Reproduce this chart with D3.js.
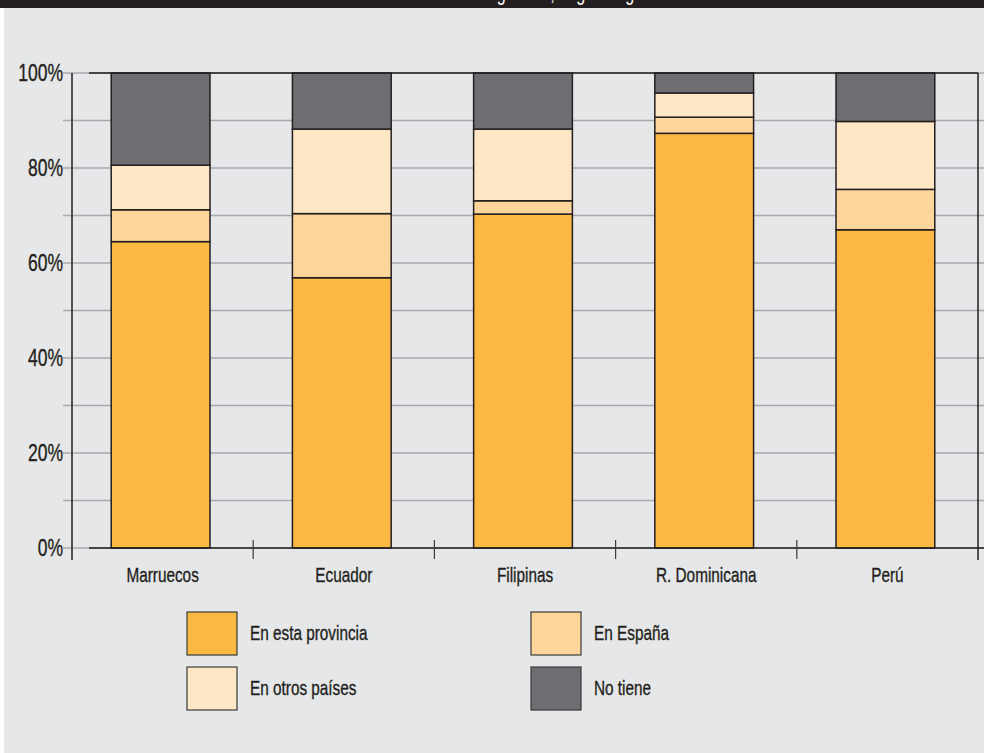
<!DOCTYPE html>
<html>
<head>
<meta charset="utf-8">
<script src="https://cdn.jsdelivr.net/npm/d3@7"></script>
<style>
  html, body { margin: 0; padding: 0; background: #ffffff; }
  svg { display: block; }
</style>
</head>
<body>
<svg id="chart" width="984" height="753"></svg>
<script>
// ---- Data ----
const categories = ["Marruecos", "Ecuador", "Filipinas", "R. Dominicana", "Perú"];
const seriesNames = ["En esta provincia", "En España", "En otros países", "No tiene"];
const enEstaProvincia = [64.5, 56.9, 70.3, 87.3, 67.0];
const enEspana        = [6.7, 13.5, 2.8, 3.4, 8.5];
const enOtrosPaises   = [9.4, 17.8, 15.1, 5.1, 14.3];
const noTiene         = [19.4, 11.8, 11.8, 4.2, 10.2];
const yTickValues = [0, 10, 20, 30, 40, 50, 60, 70, 80, 90, 100];
const yTickLabels = ["0%", "", "20%", "", "40%", "", "60%", "", "80%", "", "100%"];
const titleText = "Familiares de los inmigrantes, según origen";

(function () {
const colors = ["#fbb843", "#fed69b", "#fee7c4", "#6d6e71"];
const font = "'Liberation Sans', Arial, sans-serif";
const SX = 0.73; // condensed look

const svg = d3.select("#chart");
const W = 984, H = 753;

// helper: horizontally condensed text
function ctext(sel, x, y, txt, size, anchor, fill) {
  const f = fill || "#231f20";
  return sel.append("text")
    .attr("transform", `translate(${x},${y}) scale(${SX},1)`)
    .attr("dy", "0.35em")
    .attr("text-anchor", anchor)
    .attr("font-family", font).attr("font-size", size)
    .attr("fill", f).attr("stroke", f).attr("stroke-width", 0.35)
    .text(txt);
}

// background
svg.append("rect").attr("x", 4).attr("y", 0).attr("width", W - 4).attr("height", H).attr("fill", "#e6e7e8");
// top black band with clipped title
svg.append("rect").attr("x", 0).attr("y", 0).attr("width", W).attr("height", 8).attr("fill", "#231f20");
svg.append("text")
  .attr("transform", `translate(652,0) scale(${SX},1)`)
  .attr("text-anchor", "end")
  .attr("font-family", font).attr("font-size", 22).attr("fill", "#ffffff")
  .text(titleText);

const mLeft = 72, mRight = 978, mTop = 73, mBottom = 548;

const x = d3.scaleBand().domain(categories).range([mLeft, mRight]).paddingInner(0.455).paddingOuter(0.2275);
const y = d3.scaleLinear().domain([0, 100]).range([mBottom, mTop]);

// grid lines
svg.append("g").selectAll("line").data(yTickValues).join("line")
  .attr("x1", 63).attr("x2", W)
  .attr("y1", d => y(d)).attr("y2", d => y(d))
  .attr("stroke", "#a7a9ac").attr("stroke-width", 1.5);

// stacked data
const rows = categories.map((c, i) => ({
  cat: c,
  s0: enEstaProvincia[i], s1: enEspana[i], s2: enOtrosPaises[i], s3: noTiene[i]
}));
const stacked = d3.stack().keys(["s0", "s1", "s2", "s3"])(rows);

const gBars = svg.append("g");
stacked.forEach((layer, li) => {
  gBars.append("g").selectAll("rect").data(layer).join("rect")
    .attr("x", d => x(d.data.cat) - 2)
    .attr("y", d => y(d[1]))
    .attr("width", x.bandwidth())
    .attr("height", d => y(d[0]) - y(d[1]))
    .attr("fill", colors[li])
    .attr("stroke", "#231f20")
    .attr("stroke-width", 1.5);
});

// axis frame lines
const axisColor = "#231f20";
svg.append("line").attr("x1", 89).attr("x2", mRight).attr("y1", y(100)).attr("y2", y(100))
  .attr("stroke", axisColor).attr("stroke-width", 1.5);
svg.append("line").attr("x1", 89).attr("x2", W).attr("y1", y(0)).attr("y2", y(0))
  .attr("stroke", axisColor).attr("stroke-width", 1.5);
svg.append("line").attr("x1", mLeft).attr("x2", mLeft).attr("y1", y(100)).attr("y2", 560)
  .attr("stroke", axisColor).attr("stroke-width", 1.5);
svg.append("line").attr("x1", mRight).attr("x2", mRight).attr("y1", y(100)).attr("y2", 560)
  .attr("stroke", axisColor).attr("stroke-width", 1.5);

// category boundary ticks
const bnds = d3.range(categories.length + 1).map(i => mLeft + i * x.step());
svg.append("g").selectAll("line").data(bnds.slice(1, -1)).join("line")
  .attr("x1", d => d).attr("x2", d => d).attr("y1", 540).attr("y2", 559)
  .attr("stroke", "#3a3a3a").attr("stroke-width", 1.2);

// y axis labels
const gy = svg.append("g");
yTickValues.forEach((v, i) => {
  if (yTickLabels[i]) ctext(gy, 63, y(v), yTickLabels[i], 24, "end");
});

// x axis labels
const gx = svg.append("g");
categories.forEach(c => {
  ctext(gx, x(c) + x.bandwidth() / 2, 575, c, 21, "middle");
});

// legend
const legendPos = [
  {sx: 187, sy: 612, tx: 250},
  {sx: 531, sy: 612, tx: 594},
  {sx: 187, sy: 667, tx: 250},
  {sx: 531, sy: 667, tx: 594}
];
const lg = svg.append("g");
seriesNames.forEach((name, i) => {
  const p = legendPos[i];
  lg.append("rect").attr("x", p.sx).attr("y", p.sy).attr("width", 50).attr("height", 43)
    .attr("fill", colors[i]).attr("stroke", "#3a3a3a").attr("stroke-width", 1.2);
  ctext(lg, p.tx, p.sy + 21, name, 21, "start");
});
})();
</script>
</body>
</html>
